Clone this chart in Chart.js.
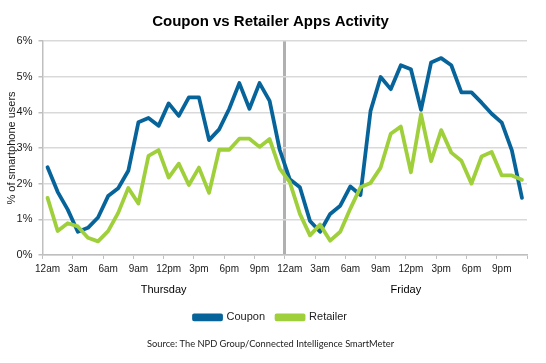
<!DOCTYPE html>
<html><head><meta charset="utf-8">
<script src="https://cdn.jsdelivr.net/npm/chart.js@4"></script>
<style>html,body{margin:0;padding:0;background:#fff}#wrap{width:546px;height:363px;position:relative}</style>
</head><body><div id="wrap"><canvas id="c"></canvas></div>
<script>
// ---- data ----
const hours = ['12am','1am','2am','3am','4am','5am','6am','7am','8am','9am','10am','11am',
               '12pm','1pm','2pm','3pm','4pm','5pm','6pm','7pm','8pm','9pm','10pm','11pm'];
const categories = hours.concat(hours);           // Thursday then Friday, hourly
const tickLabels = ['12am','3am','6am','9am','12pm','3pm','6pm','9pm'];
const days = ['Thursday','Friday'];
const seriesNames = ['Coupon','Retailer'];
const coupon = [2.46,1.77,1.27,0.65,0.76,1.05,1.65,1.87,2.36,3.72,3.84,3.62,
                4.25,3.90,4.42,4.42,3.22,3.52,4.10,4.82,4.10,4.82,4.32,2.95,
                2.12,1.90,0.95,0.65,1.15,1.38,1.92,1.68,4.04,4.99,4.65,5.32,
                5.21,4.07,5.40,5.52,5.32,4.56,4.56,4.27,3.96,3.71,2.93,1.60];
const retailer = [1.60,0.67,0.89,0.80,0.48,0.38,0.67,1.18,1.88,1.44,2.78,2.94,
                  2.17,2.56,1.96,2.45,1.74,2.95,2.95,3.26,3.26,3.03,3.25,2.42,
                  2.04,1.15,0.55,0.85,0.40,0.65,1.30,1.90,2.02,2.45,3.40,3.60,
                  2.32,3.95,2.63,3.50,2.87,2.64,2.00,2.76,2.89,2.23,2.23,2.11];
const yTicks = [0,1,2,3,4,5,6];
const titleText = 'Coupon vs Retailer Apps Activity';
const yTitle = '% of smartphone users';
const sourceText = 'Source: The NPD Group/Connected Intelligence SmartMeter';

// ---- chart ----
const SANS = "'Liberation Sans', Arial, sans-serif";
const dayBoundary = categories.length / 2;
const COLORS = ['#07649a', '#9fd03c'];

new Chart(document.getElementById('c'), {
  type: 'line',
  data: {
    labels: categories,
    datasets: [
      {label: seriesNames[0], data: coupon, borderColor: COLORS[0], backgroundColor: COLORS[0], order: 1},
      {label: seriesNames[1], data: retailer, borderColor: COLORS[1], backgroundColor: COLORS[1], order: 0}
    ]
  },
  options: {
    responsive: true, maintainAspectRatio: false, animation: false, devicePixelRatio: 1,
    layout: {padding: {left: 0, right: 5, top: 0, bottom: 0}},
    elements: {
      line: {borderWidth: 3.8, tension: 0, borderJoinStyle: 'round', borderCapStyle: 'round'},
      point: {radius: 0, hoverRadius: 0}
    },
    plugins: {
      tooltip: {enabled: false},
      title: {display: true, text: titleText, color: '#000',
              font: {family: SANS, size: 15, weight: 'bold'}, padding: {top: 13, bottom: 10}},
      subtitle: {display: true, position: 'bottom', text: sourceText, color: '#222',
                 font: {family: "Lato, 'Open Sans', sans-serif", size: 9.3}, padding: {top: 6, bottom: 13}},
      legend: {position: 'bottom',
               labels: {boxWidth: 27, boxHeight: 4, color: '#222', padding: 11.5,
                        font: {family: SANS, size: 11},
                        sort: (a, b) => a.datasetIndex - b.datasetIndex}}
    },
    scales: {
      x: {
        type: 'category', position: 'bottom', offset: true, weight: 0,
        grid: {
          offset: true, drawOnChartArea: true, tickLength: 4, tickWidth: 1,
          color: ctx => ctx.index === dayBoundary ? 'rgba(150,150,150,0.75)' : 'rgba(0,0,0,0)',
          lineWidth: ctx => ctx.index === dayBoundary ? 3 : 1,
          tickColor: ctx => (ctx.index === undefined || ctx.index % 3 === 0) ? '#bfbfbf' : 'rgba(0,0,0,0)'
        },
        border: {color: '#bfbfbf', width: 1.5},
        ticks: {autoSkip: false, maxRotation: 0, minRotation: 0, padding: 4.5, color: '#1a1a1a',
                font: {family: SANS, size: 10},
                callback: (v, i) => tickLabels.includes(categories[i]) && i % 3 === 0 ? categories[i] : ''}
      },
      x2: {
        type: 'category', position: 'bottom', labels: days, offset: true, weight: 1,
        grid: {display: false, drawTicks: false}, border: {display: false},
        ticks: {padding: 3.6, color: '#000', font: {family: SANS, size: 11}, maxRotation: 0}
      },
      y: {
        min: yTicks[0], max: yTicks[yTicks.length - 1],
        afterFit: s => { s.width = 42.5; },
        afterBuildTicks: s => { s.ticks = yTicks.map(v => ({value: v})); },
        grid: {color: '#d9d9d9', lineWidth: 1.5, tickLength: 4, tickColor: '#bfbfbf'},
        border: {color: '#bfbfbf', width: 1.5},
        ticks: {padding: 6, color: '#1a1a1a', font: {family: SANS, size: 11}, callback: v => v + '%'},
        title: {display: true, text: yTitle, color: '#1a1a1a', font: {family: SANS, size: 11}, padding: {top: 5, bottom: 0}}
      },
      yRight: {
        position: 'right', min: 0, max: 1,
        afterFit: s => { s.width = 14; },
        grid: {display: false, drawTicks: false}, border: {display: false},
        ticks: {display: false}
      }
    }
  }
});
</script>
</body></html>
